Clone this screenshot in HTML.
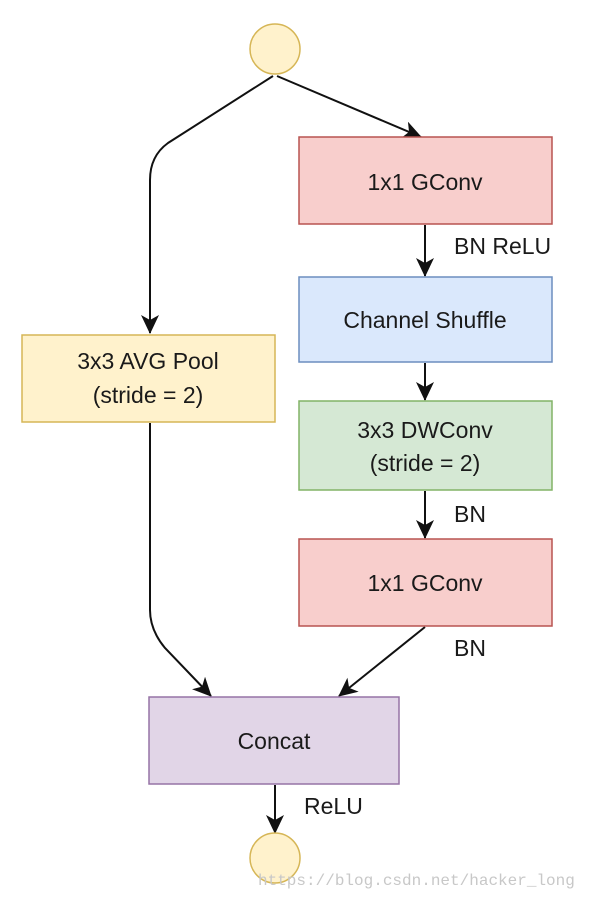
<!DOCTYPE html>
<html><head><style>
body{margin:0;background:#fff;}
svg{display:block;}
text{font-family:"Liberation Sans",sans-serif;font-size:23px;fill:#1a1a1a;}
</style></head><body>
<svg width="600" height="898" viewBox="0 0 600 898" xmlns="http://www.w3.org/2000/svg">
<defs><marker id="a" markerWidth="20" markerHeight="20" refX="18" refY="9" orient="auto" markerUnits="userSpaceOnUse"><path d="M0,0 L19,9 L0,18 L5,9 Z" fill="#111"/></marker></defs>
<g stroke="#111" stroke-width="2" fill="none">
<path d="M273,76 L168,143 Q150,156 150,180 L150,333" marker-end="url(#a)"/>
<path d="M277,76 L421,137" marker-end="url(#a)"/>
<path d="M425,225 L425,276" marker-end="url(#a)"/>
<path d="M425,363 L425,400" marker-end="url(#a)"/>
<path d="M425,491 L425,538" marker-end="url(#a)"/>
<path d="M150,423 L150,610 Q150,630 165,648 L211,696" marker-end="url(#a)"/>
<path d="M425,627 L339,696" marker-end="url(#a)"/>
<path d="M275,785 L275,833" marker-end="url(#a)"/>
</g>
<ellipse cx="275" cy="49" rx="25" ry="25" fill="#fff2cc" stroke="#d6b656" stroke-width="1.5"/>
<ellipse cx="275" cy="858" rx="25" ry="25" fill="#fff2cc" stroke="#d6b656" stroke-width="1.5"/>
<rect x="299" y="137" width="253" height="87" fill="#f8cecc" stroke="#b85450" stroke-width="1.5"/>
<rect x="299" y="277" width="253" height="85" fill="#dae8fc" stroke="#6c8ebf" stroke-width="1.5"/>
<rect x="299" y="401" width="253" height="89" fill="#d5e8d4" stroke="#82b366" stroke-width="1.5"/>
<rect x="299" y="539" width="253" height="87" fill="#f8cecc" stroke="#b85450" stroke-width="1.5"/>
<rect x="22" y="335" width="253" height="87" fill="#fff2cc" stroke="#d6b656" stroke-width="1.5"/>
<rect x="149" y="697" width="250" height="87" fill="#e1d5e7" stroke="#9673a6" stroke-width="1.5"/>
<g text-anchor="middle">
<text x="425" y="190">1x1 GConv</text>
<text x="425" y="328">Channel Shuffle</text>
<text x="425" y="438">3x3 DWConv</text>
<text x="425" y="471">(stride = 2)</text>
<text x="425" y="591">1x1 GConv</text>
<text x="148" y="369">3x3 AVG Pool</text>
<text x="148" y="403">(stride = 2)</text>
<text x="274" y="749">Concat</text>
</g>
<text x="454" y="254">BN ReLU</text>
<text x="454" y="522">BN</text>
<text x="454" y="656">BN</text>
<text x="304" y="814">ReLU</text>
<text x="258" y="885" style="font-family:'Liberation Mono',monospace;font-size:16px;fill:#c8c8c8">https://blog.csdn.net/hacker_long</text>
</svg>
</body></html>
